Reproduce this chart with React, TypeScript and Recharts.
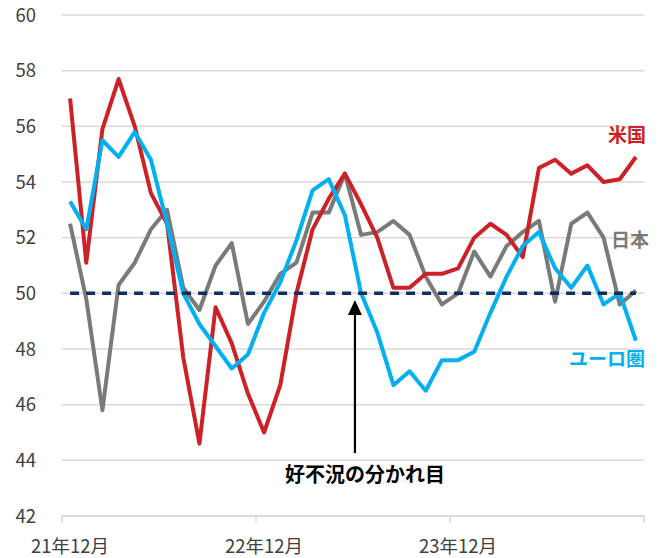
import React from 'react';
import { LineChart, Line, XAxis, YAxis, CartesianGrid, ReferenceLine } from 'recharts';

const months = Array.from({ length: 36 }, (_, k) => k);
const us = [57.0, 51.1, 55.9, 57.7, 56.0, 53.6, 52.5, 47.7, 44.6, 49.5, 48.2, 46.4, 45.0, 46.7, 50.0, 52.3, 53.4, 54.3, 53.2, 52.0, 50.2, 50.2, 50.7, 50.7, 50.9, 52.0, 52.5, 52.1, 51.3, 54.5, 54.8, 54.3, 54.6, 54.0, 54.1, 54.9];
const japan = [52.5, 49.8, 45.8, 50.3, 51.1, 52.3, 53.0, 50.2, 49.4, 51.0, 51.8, 48.9, 49.7, 50.7, 51.1, 52.9, 52.9, 54.3, 52.1, 52.2, 52.6, 52.1, 50.6, 49.6, 50.0, 51.5, 50.6, 51.7, 52.2, 52.6, 49.7, 52.5, 52.9, 52.0, 49.6, 50.1];
const euro = [53.3, 52.3, 55.5, 54.9, 55.8, 54.8, 52.5, 50.0, 48.9, 48.1, 47.3, 47.8, 49.3, 50.4, 51.9, 53.7, 54.1, 52.8, 50.0, 48.6, 46.7, 47.2, 46.5, 47.6, 47.6, 47.9, 49.3, 50.6, 51.7, 52.2, 50.9, 50.2, 51.0, 49.6, 50.0, 48.3];
const baseline = months.map(() => 50);

const tickLabelPos = [0, 12, 24];
const tickLabels = ['21年12月', '22年12月', '23年12月'];
const boundaryTicks = [-0.5, 11.5, 23.5, 35.5];
const yTicks = [42, 44, 46, 48, 50, 52, 54, 56, 58, 60];

const ARROW_X = 17.62;
const ARROW_TIP = 49.76;
const ARROW_BOTTOM = 44.26;
const ANNOTATION = '好不況の分かれ目';

const data = months.map((i) => ({ i, us: us[i], jp: japan[i], eu: euro[i], base: baseline[i] }));

const FONT = '"Noto Sans CJK JP", "Noto Sans", sans-serif';

const XTick = (props: any) => {
  const { x, y, payload } = props;
  const v = payload.value;
  const li = tickLabelPos.indexOf(v);
  if (li >= 0) {
    return (
      <text x={x} y={y + 37} textAnchor="middle" fontFamily={FONT} fontSize={18.5} fill="#404040">
        {tickLabels[li]}
      </text>
    );
  }
  return <line x1={x} y1={y} x2={x} y2={y + 7} stroke="#d9d9d9" strokeWidth={1.5} />;
};

const makeLabel = (text: string, color: string, dx: number, dy: number) => (props: any) => {
  const { x, y, index } = props;
  if (index !== 35) return <g />;
  return (
    <text x={x + dx} y={y + dy} textAnchor="middle" fontFamily={FONT} fontSize={19} fontWeight={700} fill={color}>
      {text}
    </text>
  );
};

const ArrowShape = (props: any) => {
  const { x1, y1, x2, y2 } = props;
  const tipY = Math.min(y1, y2);
  const botY = Math.max(y1, y2);
  const x = x1;
  return (
    <g>
      <line x1={x} y1={botY} x2={x} y2={tipY + 12} stroke="#000" strokeWidth={2.2} />
      <polygon points={`${x},${tipY} ${x - 7},${tipY + 15} ${x + 7},${tipY + 15}`} fill="#000" />
      <text x={x + 10} y={botY + 29} textAnchor="middle" fontFamily={FONT} fontSize={20} fontWeight={700} fill="#000">
        {ANNOTATION}
      </text>
    </g>
  );
};

export default function App() {
  const allXTicks = [...boundaryTicks, ...tickLabelPos].sort((a, b) => a - b);
  return (
    <div style={{ position: 'absolute', left: 0, top: 0, width: 664, height: 558, background: '#fff' }}>
      <LineChart width={664} height={558} data={data} margin={{ top: 15, right: 20, bottom: 0, left: 12 }}>
        <CartesianGrid horizontal vertical={false} stroke="#d9d9d9" strokeWidth={1.5} />
        <XAxis
          type="number"
          dataKey="i"
          domain={[-0.5, 35.5]}
          ticks={allXTicks}
          interval={0}
          height={42}
          tickLine={false}
          tickSize={0}
          tickMargin={0}
          axisLine={{ stroke: '#d9d9d9', strokeWidth: 1.5 }}
          tick={<XTick />}
        />
        <YAxis
          type="number"
          domain={[42, 60]}
          ticks={yTicks}
          interval={0}
          width={50}
          axisLine={false}
          tickLine={false}
          tickSize={0}
          tickMargin={26}
          tick={{ fontFamily: FONT, fontSize: 18.5, fill: '#404040' }}
        />
        <Line type="linear" dataKey="jp" stroke="#7a7a7a" strokeWidth={4} dot={false} isAnimationActive={false} strokeLinejoin="round" label={makeLabel('日本', '#7a7a7a', -6, -44)} />
        <Line type="linear" dataKey="us" stroke="#cc2127" strokeWidth={4} dot={false} isAnimationActive={false} strokeLinejoin="round" label={makeLabel('米国', '#cc2127', -9, -15)} />
        <Line type="linear" dataKey="eu" stroke="#00b0f0" strokeWidth={4} dot={false} isAnimationActive={false} strokeLinejoin="round" label={makeLabel('ユーロ圏', '#00b0f0', -29, 25)} />
        <Line type="linear" dataKey="base" stroke="#0d2f5a" strokeWidth={3.5} strokeDasharray="9 7" dot={false} isAnimationActive={false} />
        <ReferenceLine
          segment={[{ x: ARROW_X, y: ARROW_TIP }, { x: ARROW_X, y: ARROW_BOTTOM }]}
          shape={<ArrowShape />}
          ifOverflow="visible"
        />
      </LineChart>
    </div>
  );
}
